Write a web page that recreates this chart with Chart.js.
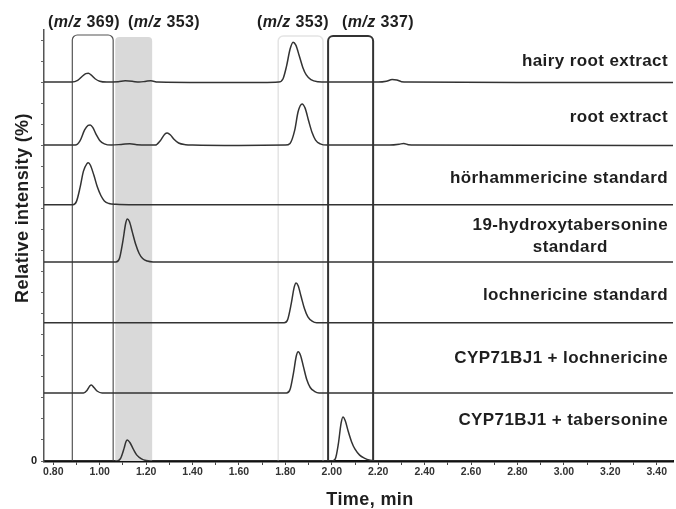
<!DOCTYPE html>
<html><head><meta charset="utf-8">
<script src="https://cdn.jsdelivr.net/npm/chart.js@4.4.1/dist/chart.umd.min.js"></script>
<style>html,body{margin:0;padding:0;background:#fff;}</style>
</head><body>
<canvas id="c" width="676" height="509"></canvas>
<script>
// ---------- DATA ----------
const traceNames = [
  'hairy root extract',
  'root extract',
  'hörhammericine standard',
  '19-hydroxytabersonine\nstandard',
  'lochnericine standard',
  'CYP71BJ1 + lochnericine',
  'CYP71BJ1 + tabersonine'
];
// vertical stacking offsets of each trace (relative intensity units)
const traceOffsets = [902, 752, 610, 474, 329, 162, 0];

// [time (min), relative intensity (%)]
const hairyRoot = [[0.76,0],[0.88,0],[0.905,4],[0.925,14],[0.94,20],[0.951,21],[0.965,16],[0.98,8],[1.0,2],[1.03,0],[1.08,1],[1.11,3],[1.14,2],[1.17,0],[1.20,2],[1.22,3],[1.25,0],[1.45,-1],[1.70,-1],[1.77,0],[1.79,8],[1.805,38],[1.82,78],[1.833,95],[1.845,88],[1.86,62],[1.875,35],[1.89,17],[1.91,6],[1.94,1],[1.98,0],[2.20,0],[2.235,2],[2.26,6],[2.28,5],[2.30,1],[2.33,0],[2.8,-1],[3.47,-1]];
const rootExtract = [[0.76,0],[0.895,0],[0.915,10],[0.935,36],[0.95,47],[0.959,48],[0.97,42],[0.985,25],[1.00,11],[1.02,3],[1.05,0],[1.10,2],[1.13,3],[1.16,1],[1.20,0],[1.24,0],[1.26,10],[1.28,26],[1.291,29],[1.305,24],[1.32,14],[1.34,5],[1.37,1],[1.40,0],[1.60,-1],[1.80,0],[1.82,4],[1.84,35],[1.855,80],[1.872,98],[1.885,88],[1.90,58],[1.915,30],[1.93,12],[1.95,3],[1.98,0],[2.25,0],[2.29,2],[2.31,4],[2.33,1],[2.36,0],[3.47,-1]];
const horStandard = [[0.76,0],[0.885,0],[0.90,8],[0.915,40],[0.93,80],[0.945,98],[0.951,100],[0.96,94],[0.975,70],[0.99,42],[1.005,22],[1.02,9],[1.04,3],[1.07,1],[1.15,0],[3.47,0]];
const hydroxyStandard = [[0.76,0],[1.07,0],[1.085,8],[1.10,50],[1.112,92],[1.119,102],[1.128,96],[1.14,72],[1.155,42],[1.17,20],[1.185,8],[1.205,2],[1.23,0],[3.47,0]];
const lochStandard = [[0.76,0],[1.795,0],[1.81,8],[1.825,45],[1.838,85],[1.846,95],[1.855,88],[1.868,62],[1.882,34],[1.897,14],[1.915,4],[1.935,0],[3.47,0]];
const cypLoch = [[0.76,0],[0.93,0],[0.945,6],[0.958,17],[0.964,19],[0.975,13],[0.99,4],[1.01,0],[1.805,0],[1.82,8],[1.835,48],[1.847,88],[1.855,98],[1.865,90],[1.878,62],[1.892,32],[1.907,13],[1.925,4],[1.945,0],[3.47,0]];
const cypTab = [[0.76,0],[1.075,0],[1.09,6],[1.105,30],[1.113,46],[1.119,50],[1.13,44],[1.145,28],[1.16,14],[1.18,5],[1.20,1],[1.22,0],[2.00,0],[2.015,5],[2.028,40],[2.04,90],[2.048,105],[2.058,96],[2.07,72],[2.085,46],[2.10,28],[2.12,14],[2.14,7],[2.165,2],[2.19,0],[3.47,0]];
const traces = [hairyRoot, rootExtract, horStandard, hydroxyStandard, lochStandard, cypLoch, cypTab];

// ion-extraction windows
const regionStart = [0.882, 1.067, 1.769, 1.984];
const regionEnd   = [1.058, 1.226, 1.962, 2.178];
const regionMz    = ['369', '353', '353', '337'];

const xTickValues = [0.8,0.9,1.0,1.1,1.2,1.3,1.4,1.5,1.6,1.7,1.8,1.9,2.0,2.1,2.2,2.3,2.4,2.5,2.6,2.7,2.8,2.9,3.0,3.1,3.2,3.3,3.4];
const xLabelValues = [0.8,1.0,1.2,1.4,1.6,1.8,2.0,2.2,2.4,2.6,2.8,3.0,3.2,3.4];
const xTickLabels = ['0.80','1.00','1.20','1.40','1.60','1.80','2.00','2.20','2.40','2.60','2.80','3.00','3.20','3.40'];
const yTickLabels = ['0'];

// ---------- STYLE / LAYOUT ----------
const FONT = "'Liberation Sans', Arial, sans-serif";
const LAYOUT = {
  boxStyles: [
    {fill: null, stroke: '#555', width: 1.2, top: 5, r: 5},
    {fill: '#d9d9d9', stroke: null, width: 0, top: 7, r: 4},
    {fill: null, stroke: '#e4e4e4', width: 1.5, top: 6, r: 5},
    {fill: null, stroke: '#333', width: 2, top: 6, r: 5}
  ],
  labelX: [48, 128, 257, 342],
  labelY: 22.5,
  traceLabelRight: 668,
  traceLabelY: [61, 117, 178, 236, 295, 358, 420],
  xTitle: [370, 500],
  yTitle: [23, 208]
};

const datasets = traces.map((tr, i) => ({
  label: traceNames[i],
  data: tr.map(p => ({x: p[0], y: p[1] + traceOffsets[i]})),
  borderColor: '#333',
  borderWidth: 1.5,
  pointRadius: 0,
  fill: false,
  cubicInterpolationMode: 'monotone'
}));

function roundTopPath(ctx, x1, x2, top, bottom, r) {
  ctx.beginPath();
  ctx.moveTo(x1, bottom);
  ctx.lineTo(x1, top + r);
  ctx.arcTo(x1, top, x1 + r, top, r);
  ctx.lineTo(x2 - r, top);
  ctx.arcTo(x2, top, x2, top + r, r);
  ctx.lineTo(x2, bottom);
}

const regionPlugin = {
  id: 'regionsDraw',
  beforeDatasetsDraw(chart) {
    const {ctx, chartArea} = chart;
    const xs = chart.scales.x;
    ctx.save();
    LAYOUT.boxStyles.forEach((st, i) => {
      const x1 = xs.getPixelForValue(regionStart[i]);
      const x2 = xs.getPixelForValue(regionEnd[i]);
      const top = chartArea.top + st.top;
      const bottom = chartArea.bottom;
      if (st.fill) {
        roundTopPath(ctx, x1, x2, top, bottom, st.r);
        ctx.closePath();
        ctx.fillStyle = st.fill;
        ctx.fill();
      }
      if (st.stroke) {
        roundTopPath(ctx, x1, x2, top, bottom, st.r);
        ctx.strokeStyle = st.stroke;
        ctx.lineWidth = st.width;
        ctx.stroke();
      }
    });
    ctx.restore();
  },
  afterDraw(chart) {
    const {ctx} = chart;
    ctx.save();
    ctx.fillStyle = '#1e1e1e';
    ctx.textBaseline = 'middle';
    ctx.letterSpacing = '0.4px';
    regionMz.forEach((mz, i) => {
      let x = LAYOUT.labelX[i];
      const y = LAYOUT.labelY;
      ctx.textAlign = 'left';
      ctx.font = 'bold 16px ' + FONT;
      ctx.fillText('(', x, y); x += ctx.measureText('(').width;
      ctx.font = 'italic bold 16px ' + FONT;
      ctx.fillText('m/z', x, y); x += ctx.measureText('m/z').width;
      ctx.font = 'bold 16px ' + FONT;
      ctx.fillText(' ' + mz + ')', x, y);
    });
    ctx.font = 'bold 17px ' + FONT;
    traceNames.forEach((name, i) => {
      const lines = name.split('\n');
      const y = LAYOUT.traceLabelY[i];
      if (lines.length === 1) {
        ctx.textAlign = 'right';
        ctx.fillText(lines[0], LAYOUT.traceLabelRight, y);
      } else {
        const w = ctx.measureText(lines[0]).width;
        const cx = LAYOUT.traceLabelRight - w / 2;
        ctx.textAlign = 'center';
        ctx.fillText(lines[0], cx, y - 11);
        ctx.fillText(lines[1], cx, y + 11);
      }
    });
    ctx.font = 'bold 18px ' + FONT;
    ctx.textAlign = 'center';
    ctx.fillText('Time, min', LAYOUT.xTitle[0], LAYOUT.xTitle[1]);
    ctx.translate(LAYOUT.yTitle[0], LAYOUT.yTitle[1]);
    ctx.rotate(-Math.PI / 2);
    ctx.fillText('Relative intensity (%)', 0, 0);
    ctx.restore();
  }
};

new Chart(document.getElementById('c'), {
  type: 'line',
  data: {datasets},
  plugins: [regionPlugin],
  options: {
    responsive: false,
    animation: false,
    layout: {padding: {top: 30, right: 3, left: 0, bottom: 0}},
    plugins: {legend: {display: false}, tooltip: {enabled: false}},
    scales: {
      x: {
        type: 'linear',
        min: 0.76, max: 3.47,
        afterFit(s) { s.height = 48; },
        afterBuildTicks(s) { s.ticks = xTickValues.map(v => ({value: v})); },
        border: {display: true, color: '#111', width: 2.5},
        grid: {drawOnChartArea: false, tickLength: 4, color: '#444', tickWidth: 1},
        ticks: {
          autoSkip: false, maxRotation: 0, padding: 1,
          color: '#333',
          font: {family: FONT, size: 10.5, weight: 'bold'},
          callback(v) {
            const i = xLabelValues.findIndex(t => Math.abs(t - v) < 1e-6);
            return i >= 0 ? xTickLabels[i] : '';
          }
        }
      },
      y: {
        type: 'linear',
        min: 0, max: 1026,
        afterFit(s) { s.width = 44; },
        border: {display: true, color: '#555', width: 1.5},
        grid: {drawOnChartArea: false, tickLength: 3, color: '#666'},
        ticks: {
          stepSize: 50, includeBounds: false, padding: 4,
          color: '#222',
          font: {family: FONT, size: 11, weight: 'bold'},
          callback(v) { return v === 0 ? yTickLabels[0] : ''; }
        }
      }
    }
  }
});
</script>
</body></html>
